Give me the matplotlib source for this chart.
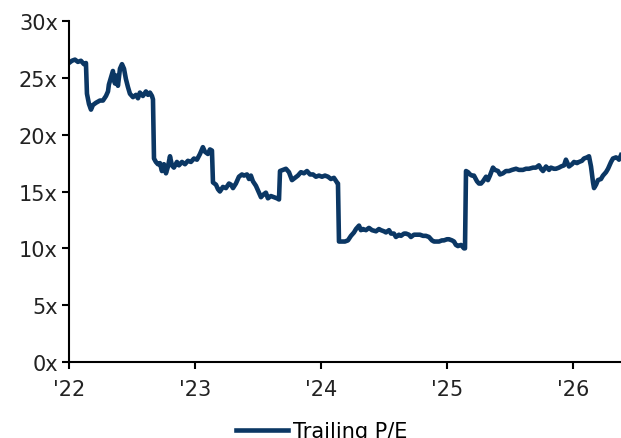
import matplotlib
matplotlib.use("Agg")
import matplotlib.pyplot as plt

# decimal year / trailing P/E
years = [
    2022.000, 2022.024, 2022.048, 2022.071, 2022.095, 2022.119, 2022.135, 2022.143,
    2022.159, 2022.175, 2022.190, 2022.214, 2022.246, 2022.270, 2022.294, 2022.310,
    2022.317, 2022.333, 2022.349, 2022.365, 2022.373, 2022.389, 2022.405, 2022.421,
    2022.437, 2022.452, 2022.468, 2022.484, 2022.508, 2022.532, 2022.548, 2022.563,
    2022.587, 2022.611, 2022.627, 2022.643, 2022.659, 2022.667, 2022.675, 2022.690,
    2022.706, 2022.722, 2022.738, 2022.754, 2022.770, 2022.786, 2022.802, 2022.817,
    2022.833, 2022.857, 2022.873, 2022.897, 2022.921, 2022.944, 2022.968, 2022.992,
    2023.016, 2023.040, 2023.063, 2023.079, 2023.103, 2023.119, 2023.135, 2023.143,
    2023.167, 2023.183, 2023.198, 2023.222, 2023.246, 2023.270, 2023.286, 2023.302,
    2023.325, 2023.349, 2023.373, 2023.389, 2023.413, 2023.429, 2023.444, 2023.460,
    2023.484, 2023.508, 2023.524, 2023.540, 2023.563, 2023.579, 2023.603, 2023.627,
    2023.651, 2023.667, 2023.675, 2023.698, 2023.722, 2023.746, 2023.770, 2023.794,
    2023.817, 2023.841, 2023.865, 2023.889, 2023.913, 2023.937, 2023.960, 2023.984,
    2024.008, 2024.032, 2024.056, 2024.079, 2024.103, 2024.127, 2024.135, 2024.143,
    2024.167, 2024.190, 2024.214, 2024.238, 2024.262, 2024.278, 2024.302, 2024.317,
    2024.333, 2024.357, 2024.381, 2024.405, 2024.437, 2024.460, 2024.476, 2024.500,
    2024.516, 2024.540, 2024.556, 2024.579, 2024.595, 2024.619, 2024.635, 2024.659,
    2024.675, 2024.698, 2024.714, 2024.738, 2024.754, 2024.786, 2024.810, 2024.833,
    2024.857, 2024.881, 2024.897, 2024.921, 2024.937, 2024.960, 2024.976, 2025.000,
    2025.016, 2025.040, 2025.056, 2025.071, 2025.087, 2025.111, 2025.135, 2025.143,
    2025.151, 2025.167, 2025.183, 2025.198, 2025.214, 2025.238, 2025.254, 2025.270,
    2025.286, 2025.310, 2025.325, 2025.341, 2025.365, 2025.381, 2025.405, 2025.421,
    2025.444, 2025.468, 2025.492, 2025.516, 2025.548, 2025.571, 2025.603, 2025.627,
    2025.651, 2025.683, 2025.706, 2025.730, 2025.746, 2025.762, 2025.786, 2025.810,
    2025.825, 2025.849, 2025.865, 2025.889, 2025.905, 2025.929, 2025.944, 2025.960,
    2025.968, 2025.992, 2026.008, 2026.032, 2026.048, 2026.071, 2026.087, 2026.111,
    2026.127, 2026.143, 2026.159, 2026.167, 2026.183, 2026.198, 2026.222, 2026.238,
    2026.262, 2026.278, 2026.302, 2026.317, 2026.341, 2026.357, 2026.365, 2026.381,
]
pe = [
    26.3, 26.5, 26.6, 26.4, 26.5, 26.2, 26.3, 23.6,
    22.7, 22.2, 22.6, 22.8, 23.0, 23.0, 23.4, 23.8,
    24.4, 25.0, 25.6, 24.5, 25.2, 24.3, 25.8, 26.2,
    25.8, 24.9, 24.2, 23.6, 23.3, 23.5, 23.2, 23.7,
    23.4, 23.8, 23.5, 23.7, 23.4, 23.1, 17.9, 17.6,
    17.4, 17.5, 16.8, 17.4, 16.6, 17.2, 18.1, 17.3,
    17.1, 17.6, 17.3, 17.6, 17.4, 17.7, 17.6, 17.9,
    17.8, 18.3, 18.9, 18.5, 18.3, 18.7, 18.6, 15.8,
    15.6, 15.2, 15.0, 15.4, 15.3, 15.7, 15.6, 15.3,
    15.7, 16.3, 16.5, 16.4, 16.5, 16.1, 16.4, 15.9,
    15.5, 14.9, 14.5, 14.7, 14.9, 14.4, 14.6, 14.5,
    14.4, 14.3, 16.8, 16.9, 17.0, 16.7, 16.0, 16.2,
    16.4, 16.7, 16.6, 16.8, 16.5, 16.5, 16.3, 16.4,
    16.3, 16.4, 16.3, 16.1, 16.2, 15.8, 15.7, 10.6,
    10.6, 10.6, 10.7, 11.1, 11.4, 11.7, 12.0, 11.6,
    11.7, 11.6, 11.8, 11.6, 11.5, 11.7, 11.6, 11.5,
    11.4, 11.6, 11.3, 11.3, 11.0, 11.2, 11.1, 11.3,
    11.3, 11.2, 11.0, 11.2, 11.2, 11.2, 11.1, 11.1,
    11.0, 10.7, 10.6, 10.6, 10.6, 10.7, 10.7, 10.8,
    10.8, 10.7, 10.6, 10.3, 10.2, 10.3, 10.0, 10.0,
    16.8, 16.7, 16.5, 16.4, 16.4, 15.9, 15.7, 15.7,
    15.9, 16.3, 16.0, 16.4, 17.1, 16.9, 16.8, 16.5,
    16.6, 16.8, 16.8, 16.9, 17.0, 16.9, 16.9, 17.0,
    17.0, 17.1, 17.1, 17.3, 17.0, 16.8, 17.2, 16.9,
    17.1, 17.0, 17.0, 17.1, 17.2, 17.3, 17.8, 17.4,
    17.2, 17.4, 17.6, 17.5, 17.6, 17.7, 17.9, 18.0,
    18.1, 17.2, 15.8, 15.3, 15.6, 16.0, 16.1, 16.4,
    16.7, 17.0, 17.6, 17.9, 18.0, 17.9, 17.8, 18.2,
]
tick_years = [2022, 2023, 2024, 2025, 2026]
tick_labels = ["'22", "'23", "'24", "'25", "'26"]
y_ticks = [0, 5, 10, 15, 20, 25, 30]

navy = "#0b3764"

fig = plt.figure(figsize=(6.21, 4.39), dpi=100)
ax = fig.add_axes([0.111, 0.173, 0.889, 0.777])

ax.plot(years, pe, color=navy, linewidth=3.3, solid_joinstyle="round",
        label="Trailing P/E")

ax.set_xlim(2022, 2026.381)
ax.set_ylim(0, 30)
ax.set_xticks(tick_years)
ax.set_xticklabels(tick_labels)
ax.set_yticks(y_ticks)
ax.set_yticklabels([f"{v}x" for v in y_ticks])

for side in ["top", "right"]:
    ax.spines[side].set_visible(False)
for side in ["left", "bottom"]:
    ax.spines[side].set_linewidth(1.5)
    ax.spines[side].set_color("black")

ax.tick_params(axis="both", labelsize=15, colors="black", width=1.5,
               direction="out", length=5)
ax.tick_params(axis="x", pad=7)
ax.tick_params(axis="y", pad=3)
for lbl in ax.get_xticklabels() + ax.get_yticklabels():
    lbl.set_color("#222222")

fig.legend(loc="center", bbox_to_anchor=(0.518, 0.015), frameon=False,
           fontsize=15, handlelength=2.5, handletextpad=0.25)

fig.savefig("out.png", dpi=100)
